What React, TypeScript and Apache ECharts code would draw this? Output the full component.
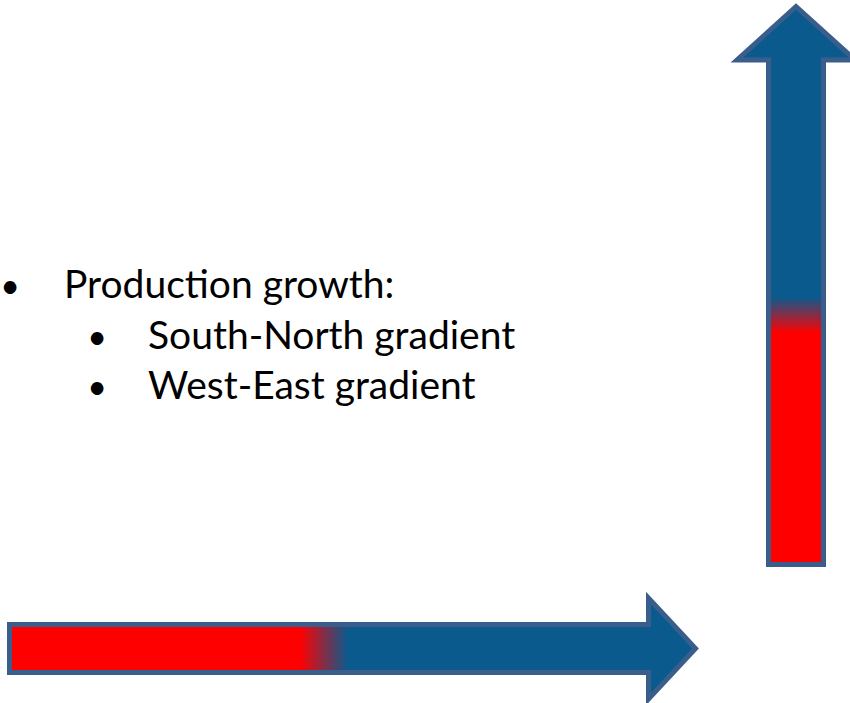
import React, { useEffect, useRef } from "react";
import * as echarts from "echarts";

// Text content
const bulletLines = ["Production growth:", "South-North gradient", "West-East gradient"];
const bulletLevels = [0, 1, 1];

// Colours
const BLUE = "#0a5a8e";
const RED = "#ff0000";
const OUTLINE = "#3a5e8c";

const FONT = "Lato, 'Open Sans', sans-serif";

export default function App() {
  const ref = useRef<HTMLDivElement>(null);
  useEffect(() => {
    if (!ref.current) return;
    const chart = echarts.init(ref.current, null, { renderer: "svg" });

    const vArrow = [
      [796, 6.5],
      [855, 60],
      [823.5, 60],
      [823.5, 564.5],
      [768.5, 564.5],
      [768.5, 60],
      [737, 60],
    ];
    const hArrow = [
      [9.5, 624.5],
      [648.5, 624.5],
      [648.5, 598],
      [695.5, 648.5],
      [648.5, 699],
      [648.5, 672.5],
      [9.5, 672.5],
    ];

    const lineBaselines = [297, 348, 398];
    const fs = 39;
    const textEls: any[] = [];
    bulletLines.forEach((t, i) => {
      const lvl = bulletLevels[i];
      const bx = lvl === 0 ? 10 : 97;
      const tx = lvl === 0 ? 64 : 148;
      const y = lineBaselines[i] + 5;
      textEls.push({
        type: "text",
        x: bx,
        y: y - 1,
        style: {
          text: "•",
          fontSize: 34,
          fontFamily: FONT,
          fill: "#000",
          align: "center",
          verticalAlign: "bottom",
        },
      });
      textEls.push({
        type: "text",
        x: tx,
        y: y,
        style: {
          text: t,
          fontSize: fs,
          fontFamily: FONT,
          fill: "#000",
          align: "left",
          verticalAlign: "bottom",
        },
      });
    });

    chart.setOption({
      animation: false,
      backgroundColor: "#ffffff",
      graphic: [
        {
          type: "polygon",
          shape: { points: vArrow },
          style: {
            fill: {
              type: "linear",
              x: 0,
              y: 297,
              x2: 0,
              y2: 333,
              global: true,
              colorStops: [
                { offset: 0, color: BLUE },
                { offset: 1, color: RED },
              ],
            },
            stroke: OUTLINE,
            lineWidth: 5,
            lineJoin: "miter",
          },
        },
        {
          type: "polygon",
          shape: { points: hArrow },
          style: {
            fill: {
              type: "linear",
              x: 300,
              y: 0,
              x2: 348,
              y2: 0,
              global: true,
              colorStops: [
                { offset: 0, color: RED },
                { offset: 1, color: BLUE },
              ],
            },
            stroke: OUTLINE,
            lineWidth: 5,
            lineJoin: "miter",
          },
        },
        ...textEls,
      ],
    });
    return () => chart.dispose();
  }, []);
  return (
    <div
      ref={ref}
      style={{ position: "fixed", left: 0, top: 0, width: 850, height: 703 }}
    />
  );
}
